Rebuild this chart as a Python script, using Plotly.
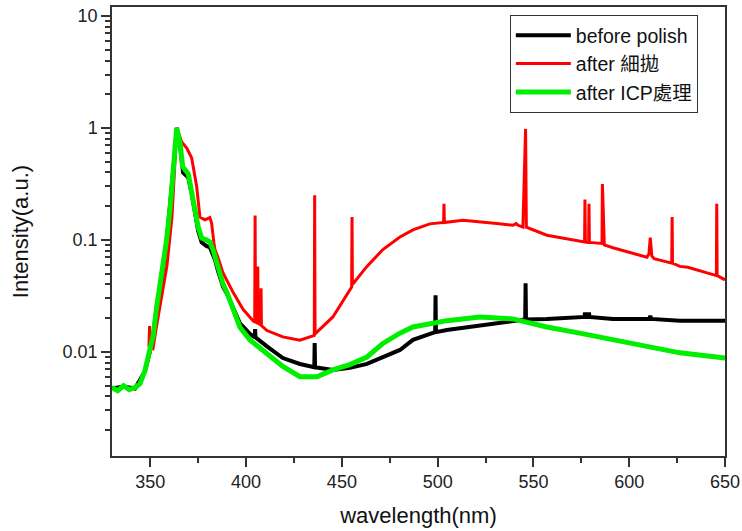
import plotly.graph_objects as go

# ---- data ----
wl_green = [330, 333, 336, 339, 342, 344.6, 347.2, 349.8, 351.5, 353.3, 356.6, 358.5, 360.3, 362, 363.8,
            365.5, 366.9, 369.8, 371.6, 373.3, 375.0, 376.8, 379.4, 381.1, 382.8, 383.8, 385.3, 386.4,
            388, 390, 393.2, 396.8, 402, 410.9, 419.2, 428.1, 437, 445.3, 454.2, 463.1, 471.4, 480.3,
            487.1, 504.8, 522, 539.3, 557, 574.1, 591.5, 609.2, 626.4, 650]
int_green = [0.0048, 0.0045, 0.005, 0.0046, 0.0048, 0.0052, 0.0068, 0.0102, 0.014, 0.025, 0.055, 0.1, 0.19, 0.42, 1.0,
             0.73, 0.45, 0.39, 0.28, 0.185, 0.13, 0.104, 0.1, 0.096, 0.081, 0.07, 0.056, 0.047,
             0.04, 0.034, 0.025, 0.0166, 0.0128, 0.0098, 0.0074, 0.006, 0.006, 0.0069, 0.0077, 0.009, 0.0119, 0.0147,
             0.0167, 0.019, 0.0205, 0.0197, 0.0167, 0.0147, 0.0128, 0.011, 0.0098, 0.0088]

wl_black = [330, 336, 342, 347.2, 349.8, 351.5, 353.3, 356.6, 358.5, 360.3, 362, 363.8,
            365.5, 367.1, 369.8, 371.6, 373.3, 375.0, 376.8, 379.4, 381.1, 382.8, 383.8, 385.3, 386.4,
            388, 390, 393.2, 396.8, 402, 404.5, 404.7, 404.9, 410.9, 419.2, 428.1, 435.6, 435.8, 436.0,
            445.3, 454.2, 463.1, 469.9, 480.3, 487.1, 498.7, 498.9, 499.1, 504.8, 522, 539.3, 545.7, 545.9,
            546.1, 557, 574.1, 576.7, 576.9, 577.1, 578.8, 579.0, 579.2, 591.5, 610.5, 611.0, 611.5, 626.4, 650]
int_black = [0.0047, 0.0049, 0.0047, 0.0067, 0.0101, 0.0138, 0.025, 0.054, 0.098, 0.19, 0.42, 1.0,
             0.7, 0.4, 0.36, 0.26, 0.17, 0.12, 0.095, 0.088, 0.086, 0.075, 0.066, 0.053, 0.045,
             0.038, 0.033, 0.025, 0.018, 0.0145, 0.0135, 0.016, 0.0135, 0.0112, 0.0088, 0.0078, 0.0073, 0.012, 0.0073,
             0.0069, 0.0072, 0.0078, 0.0088, 0.0104, 0.0128, 0.015, 0.032, 0.015, 0.0157, 0.0172, 0.019, 0.0195, 0.041,
             0.0195, 0.0197, 0.0205, 0.0205, 0.0225, 0.0205, 0.0205, 0.0225, 0.0205, 0.0197, 0.0197, 0.021, 0.0197, 0.019, 0.019]

wl_red = [349.3, 349.6, 349.9, 351.4, 353, 355, 358.7, 361.3, 363.8, 366.4, 369.0, 371.6, 374.2, 375.9,
          378.5, 381.1, 382, 383.2, 383.8, 385.3, 387.9, 393.2, 398.4, 403.6, 404.5, 404.7, 404.9, 405.9,
          406.1, 406.3, 407.6, 407.8, 408.0, 410.9, 419.2, 428.1, 435.6, 435.8, 436.0, 445.3, 454.2, 455.1,
          455.3, 455.5, 463.1, 471.4, 480.3, 487.1, 495.9, 503.1, 503.3, 503.5, 513.2, 522, 530.9, 539.3,
          541, 542, 544.5, 545.9, 546.3, 557, 574.1, 576.7, 576.9, 577.1, 578.8, 579.0, 579.2, 585.8, 586.0,
          586.5, 587, 591.5, 609.2, 610.3, 611.0, 611.8, 613, 622.2, 622.4, 622.6, 626.4, 630.6, 641, 645.5,
          645.7, 645.9, 650]
int_red = [0.011, 0.017, 0.011, 0.0107, 0.016, 0.025, 0.059, 0.16, 1.0, 0.75, 0.66, 0.54, 0.30, 0.16,
           0.151, 0.158, 0.141, 0.094, 0.081, 0.07, 0.051, 0.034, 0.024, 0.019, 0.0185, 0.165, 0.0185, 0.018,
           0.058, 0.018, 0.0175, 0.037, 0.0172, 0.0155, 0.0136, 0.0127, 0.014, 0.25, 0.0145, 0.0205, 0.0357, 0.038,
           0.16, 0.04, 0.058, 0.082, 0.106, 0.123, 0.139, 0.143, 0.21, 0.143, 0.15, 0.146, 0.14, 0.135,
           0.14, 0.135, 0.13, 0.98, 0.13, 0.11, 0.097, 0.096, 0.23, 0.096, 0.095, 0.21, 0.095, 0.093, 0.316,
           0.17, 0.09, 0.085, 0.07, 0.075, 0.105, 0.072, 0.068, 0.062, 0.16, 0.062, 0.058, 0.057, 0.05, 0.048,
           0.21, 0.048, 0.044]

series_names = ["before polish", "after 細拋", "after ICP處理"]
series_colors = ["#000000", "#ff0000", "#00ee00"]
x_ticks = [350, 400, 450, 500, 550, 600, 650]
x_minor_ticks = [375, 425, 475, 525, 575, 625]
y_ticks = [0.01, 0.1, 1, 10]
y_tick_labels = ["0.01", "0.1", "1", "10"]
y_minor_ticks = [0.002, 0.003, 0.004, 0.005, 0.006, 0.007, 0.008, 0.009,
                 0.02, 0.03, 0.04, 0.05, 0.06, 0.07, 0.08, 0.09,
                 0.2, 0.3, 0.4, 0.5, 0.6, 0.7, 0.8, 0.9,
                 2, 3, 4, 5, 6, 7, 8, 9]

FONT = "Liberation Sans, Arial, Noto Sans CJK TC, sans-serif"

fig = go.Figure()
fig.add_trace(go.Scatter(x=wl_black, y=int_black, mode="lines", name=series_names[0],
                         line=dict(color=series_colors[0], width=4)))
fig.add_trace(go.Scatter(x=wl_red, y=int_red, mode="lines", name=series_names[1],
                         line=dict(color=series_colors[1], width=3)))
fig.add_trace(go.Scatter(x=wl_green, y=int_green, mode="lines", name=series_names[2],
                         line=dict(color=series_colors[2], width=5)))

fig.update_layout(
    width=742, height=531,
    margin=dict(l=112, r=17, t=7, b=75),
    paper_bgcolor="white", plot_bgcolor="white",
    font=dict(family=FONT, color="#222222"),
    showlegend=True,
    legend=dict(x=0.649, y=0.982, xanchor="left", yanchor="top",
                bgcolor="white", bordercolor="#333333", borderwidth=1,
                font=dict(size=19.5, family=FONT, color="#111111"),
                tracegroupgap=0, itemwidth=55),
)
fig.update_xaxes(
    range=[330, 650], tickvals=x_ticks, ticks="outside", ticklen=9, tickwidth=1.5, tickcolor="#333333",
    showline=True, linecolor="#333333", linewidth=1.5, mirror=True, showgrid=False, zeroline=False,
    automargin=False,
    tickfont=dict(size=18, family=FONT, color="#222222"),
    minor=dict(ticks="outside", ticklen=5, tickwidth=1.5, tickcolor="#333333",
               tickmode="array", tickvals=x_minor_ticks, showgrid=False),
    title=dict(text="wavelength(nm)", font=dict(size=22, family=FONT, color="#111111"), standoff=16),
)
fig.update_yaxes(
    type="log", range=[-2.93, 1.08], tickvals=y_ticks, ticktext=y_tick_labels,
    ticks="outside", ticklen=9, tickwidth=1.5, tickcolor="#333333",
    showline=True, linecolor="#333333", linewidth=1.5, mirror=True, showgrid=False, zeroline=False,
    automargin=False,
    tickfont=dict(size=18, family=FONT, color="#222222"),
    minor=dict(ticks="outside", ticklen=5, tickwidth=1.5, tickcolor="#333333",
               tickmode="array", tickvals=y_minor_ticks, showgrid=False),
    title=dict(text="Intensity(a.u.)", font=dict(size=22, family=FONT, color="#111111"), standoff=28),
)

fig.write_html("out.html", config={"displayModeBar": False},
               post_script="document.body.style.margin='0';")
